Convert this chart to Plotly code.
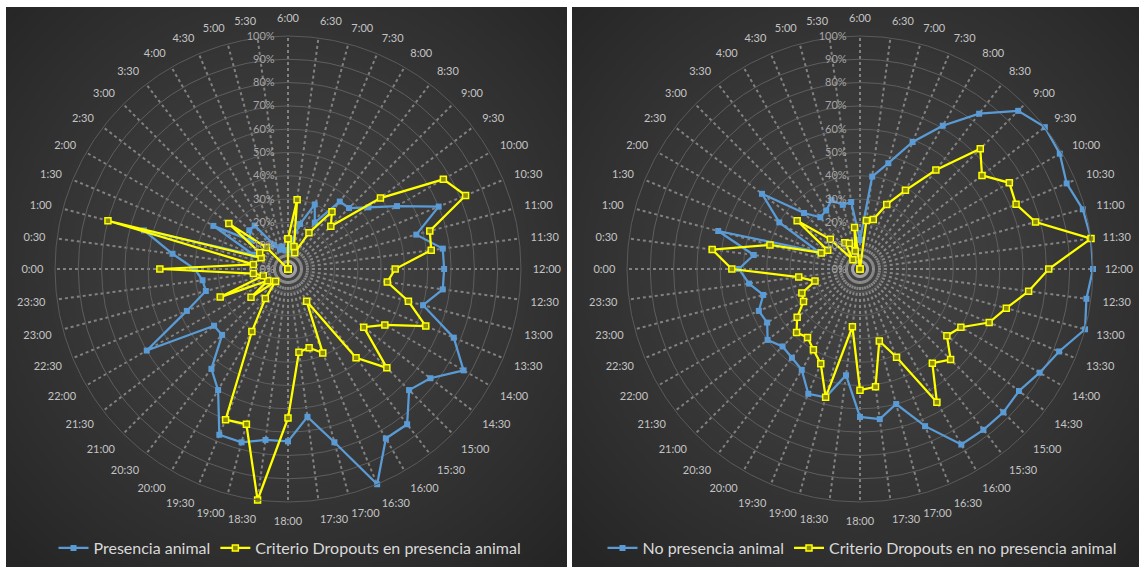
import base64
import struct
import zlib

import numpy as np
import plotly.graph_objects as go

# Time-of-day categories, clockwise from 6:00 at the top
hours = [
    "6:00", "6:30", "7:00", "7:30", "8:00", "8:30", "9:00", "9:30",
    "10:00", "10:30", "11:00", "11:30", "12:00", "12:30", "13:00", "13:30",
    "14:00", "14:30", "15:00", "15:30", "16:00", "16:30", "17:00", "17:30",
    "18:00", "18:30", "19:00", "19:30", "20:00", "20:30", "21:00", "21:30",
    "22:00", "22:30", "23:00", "23:30", "0:00", "0:30", "1:00", "1:30",
    "2:00", "2:30", "3:00", "3:30", "4:00", "4:30", "5:00", "5:30",
]

presencia = [
    0.08, 0.12, 0.20, 0.30, 0.23, 0.365, 0.37, 0.435,
    0.54, 0.70, 0.57, 0.67, 0.67, 0.67, 0.60, 0.77,
    0.87, 0.77, 0.735, 0.84, 0.84, 1.00, 0.77, 0.64,
    0.74, 0.74, 0.77, 0.77, 0.60, 0.54, 0.40, 0.40,
    0.70, 0.47, 0.365, 0.37, 0.40, 0.50, 0.64, 0.16,
    0.37, 0.20, 0.235, 0.235, 0.12, 0.09, 0.10, 0.08,
]
dropouts_presencia = [
    0.13, 0.30, 0.10, 0.076, 0.18, 0.31, 0.26, 0.50,
    0.77, 0.825, 0.63, 0.62, 0.46, 0.43, 0.535, 0.64,
    0.48, 0.41, 0.60, 0.48, 0.16, 0.39, 0.35, 0.36,
    0.64, 1.00, 0.69, 0.70, 0.31, 0.16, 0.075, 0.20,
    0.10, 0.315, 0.11, 0.15, 0.55, 0.15, 0.80, 0.125,
    0.14, 0.32, 0.13, 0.0, 0.0, 0.0, 0.0, 0.0,
]
no_presencia = [
    0.125, 0.40, 0.47, 0.59, 0.71, 0.84, 0.96, 1.00,
    0.99, 0.96, 0.99, 1.00, 1.00, 0.98, 1.00, 0.925,
    0.89, 0.86, 0.87, 0.87, 0.87, 0.73, 0.60, 0.65,
    0.635, 0.46, 0.57, 0.58, 0.50, 0.48, 0.47, 0.50,
    0.46, 0.47, 0.43, 0.48, 0.52, 0.46, 0.63, 0.19,
    0.40, 0.53, 0.34, 0.28, 0.29, 0.32, 0.285, 0.29,
]
dropouts_no_presencia = [
    0.0, 0.21, 0.22, 0.30, 0.39, 0.535, 0.73, 0.66,
    0.74, 0.725, 0.78, 1.00, 0.81, 0.73, 0.65, 0.60,
    0.50, 0.47, 0.55, 0.51, 0.66, 0.41, 0.32, 0.51,
    0.52, 0.25, 0.57, 0.44, 0.40, 0.37, 0.385, 0.34,
    0.28, 0.27, 0.20, 0.265, 0.55, 0.64, 0.40, 0.18,
    0.16, 0.34, 0.18, 0.05, 0.13, 0.12, 0.08, 0.18,
]

radial_ticks = [i / 10 for i in range(11)]
radial_text = [f"{i * 10}%" for i in range(11)]

W, H = 1139, 572
BLUE = "#5b9bd5"
YELLOW = "#ffff00"
FONT = "Lato"


def closed(values):
    return list(values) + [values[0]]


def png_data_uri(arr):
    h, w, _ = arr.shape
    raw = b"".join(b"\x00" + arr[i].tobytes() for i in range(h))

    def chunk(tag, data):
        body = tag + data
        return struct.pack(">I", len(data)) + body + struct.pack(">I", zlib.crc32(body) & 0xFFFFFFFF)

    png = (b"\x89PNG\r\n\x1a\n"
           + chunk(b"IHDR", struct.pack(">IIBBBBB", w, h, 8, 2, 0, 0, 0))
           + chunk(b"IDAT", zlib.compress(raw, 9))
           + chunk(b"IEND", b""))
    return "data:image/png;base64," + base64.b64encode(png).decode()


def panel_gradient(cx, cy, n=220):
    # radial shading: lighter grey behind the chart centre, darker to the corners
    yy, xx = np.mgrid[0:n, 0:n] / (n - 1)
    d = np.sqrt((xx - cx) ** 2 + (yy - cy) ** 2) / 0.72
    v = 68 - 31 * np.clip(d, 0, 1) ** 1.3
    g = np.clip(v, 0, 255).astype(np.uint8)
    return np.dstack([g, g, g])


def polar_layout(x0):
    # square polar area of radius 233 px centred 269 px from the top
    r = 233
    cy = H - 269
    return dict(
        domain=dict(x=[(x0 - r) / W, (x0 + r) / W], y=[(cy - r) / H, (cy + r) / H]),
        bgcolor="rgba(0,0,0,0)",
        angularaxis=dict(
            type="category",
            categoryarray=hours,
            rotation=90,
            direction="clockwise",
            showline=True,
            linecolor="#5a5a5a",
            linewidth=1,
            showgrid=True,
            gridcolor="rgba(180,180,180,0.6)",
            gridwidth=2,
            griddash="dot",
            ticks="outside",
            ticklen=9,
            tickcolor="rgba(0,0,0,0)",
            tickfont=dict(family=FONT, size=11, color="#c4c4c4"),
        ),
        radialaxis=dict(
            range=[0, 1],
            tickvals=radial_ticks,
            ticktext=radial_text,
            angle=90,
            tickangle=90,
            side="counterclockwise",
            showline=False,
            ticks="outside",
            ticklen=9,
            tickcolor="rgba(0,0,0,0)",
            showgrid=True,
            gridcolor="#5e5e5e",
            gridwidth=1,
            tickfont=dict(family=FONT, size=11, color="#a6a6a6"),
        ),
    )


def series(values, name, color, subplot, legend, hollow):
    marker = dict(symbol="square", size=6, color=color, line=dict(width=0))
    if hollow:
        marker = dict(symbol="square", size=6, color="#8a8a10", line=dict(color=color, width=1.5))
    return go.Scatterpolar(
        r=closed(values),
        theta=closed(hours),
        name=name,
        mode="lines+markers",
        line=dict(color=color, width=2.25),
        marker=marker,
        subplot=subplot,
        legend=legend,
    )


fig = go.Figure()
fig.add_trace(series(presencia, "Presencia animal", BLUE, "polar", "legend", False))
fig.add_trace(series(dropouts_presencia, "Criterio Dropouts en presencia animal", YELLOW, "polar", "legend", True))
fig.add_trace(series(no_presencia, "No presencia animal", BLUE, "polar2", "legend2", False))
fig.add_trace(series(dropouts_no_presencia, "Criterio Dropouts en no presencia animal", YELLOW, "polar2", "legend2", True))

legend_style = dict(
    orientation="h",
    xanchor="center",
    yanchor="middle",
    y=(H - 548) / H,
    bgcolor="rgba(0,0,0,0)",
    font=dict(family=FONT, size=16, color="#d9d9d9"),
)

# dark chart panels
panels = [(6, 567, 0.503, 0.467), (572, 1139, 0.508, 0.467)]
images = []
for x_left, x_right, gcx, gcy in panels:
    images.append(dict(
        source=png_data_uri(panel_gradient(gcx, gcy)),
        xref="paper", yref="paper",
        x=x_left / W, y=1 - 7 / H,
        sizex=(x_right - x_left) / W, sizey=(567 - 7) / H,
        xanchor="left", yanchor="top",
        sizing="stretch", layer="below",
    ))

fig.update_layout(
    width=W,
    height=H,
    margin=dict(l=0, r=0, t=0, b=0),
    paper_bgcolor="white",
    font=dict(family=FONT),
    polar=polar_layout(288),
    polar2=polar_layout(860),
    legend=dict(legend_style, x=290 / W),
    legend2=dict(legend_style, x=862 / W),
    images=images,
)

fig.write_html("out.html")
